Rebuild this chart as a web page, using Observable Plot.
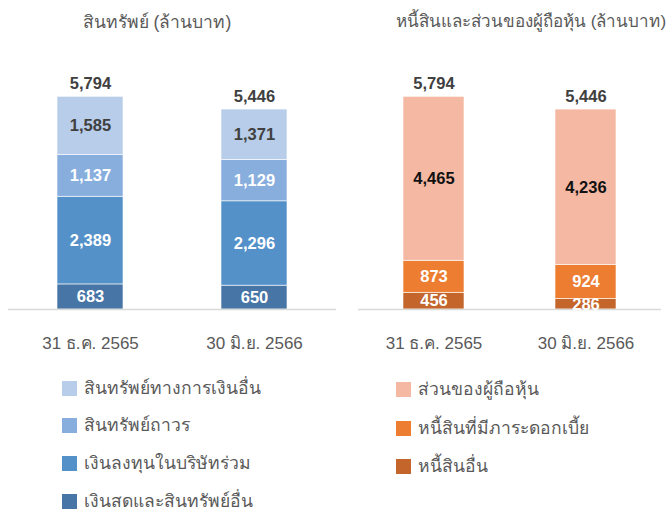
<!DOCTYPE html>
<html>
<head>
<meta charset="utf-8">
<script src="https://cdn.jsdelivr.net/npm/d3@7"></script>
<script src="https://cdn.jsdelivr.net/npm/@observablehq/plot@0.6"></script>
<style>
  body { margin: 0; background: #fff; }
  #root { position: relative; width: 672px; height: 512px; font-family: "Liberation Sans", Arial, "Noto Sans", sans-serif; color: #595959; overflow: hidden; }
  .title { position: absolute; text-align: center; font-size: 17.5px; line-height: 20px; color: #595959; white-space: nowrap; }
  .panel { position: absolute; top: 40px; }
  .lg { position: absolute; display: flex; align-items: center; height: 20px; font-size: 17.5px; color: #595959; white-space: nowrap; }
  .sw { width: 15px; height: 15px; margin-right: 7px; flex: none; }
</style>
</head>
<body>
<div id="root">
  <div class="title" style="left:0;width:314px;top:12px">สินทรัพย์ (ล้านบาท)</div>
  <div class="title" style="left:396px;top:12px;text-align:left;font-size:17px">หนี้สินและส่วนของผู้ถือหุ้น (ล้านบาท)</div>
  <div class="panel" id="left" style="left:0"></div>
  <div class="panel" id="right" style="left:336px"></div>
</div>
<script>
// ---- data ----
const dates = ["31 ธ.ค. 2565", "30 มิ.ย. 2566"];

// assets, stacked bottom to top
const assetCats = ["เงินสดและสินทรัพย์อื่น", "เงินลงทุนในบริษัทร่วม", "สินทรัพย์ถาวร", "สินทรัพย์ทางการเงินอื่น"];
const cashOther = [683, 650];
const jvInvest = [2389, 2296];
const fixedAssets = [1137, 1129];
const otherFinAssets = [1585, 1371];
const totalAssets = [5794, 5446];

// liabilities & equity, stacked bottom to top
const liabCats = ["หนี้สินอื่น", "หนี้สินที่มีภาระดอกเบี้ย", "ส่วนของผู้ถือหุ้น"];
const otherLiab = [456, 286];
const interestDebt = [873, 924];
const equity = [4465, 4236];
const totalLiabEq = [5794, 5446];

const assetColors = ["#4675A6", "#5591C9", "#87AEDD", "#B8CDE9"];
const liabColors = ["#C4652C", "#ED7D31", "#F4B8A3"];

// ---- build tables ----
function rows(cats, series) {
  const out = [];
  dates.forEach((d, i) => cats.forEach((c, j) => out.push({date: d, cat: c, value: series[j][i]})));
  return out;
}
const assetRows = rows(assetCats, [cashOther, jvInvest, fixedAssets, otherFinAssets]);
const liabRows = rows(liabCats, [otherLiab, interestDebt, equity]);
const fmt = d3.format(",");

function panel(data, cats, colors, totals, darkCat, darkColor, geo) {
  return Plot.plot({
    width: 336, height: 320,
    marginLeft: geo.ml, marginRight: geo.mr, marginTop: 12, marginBottom: 51,
    style: {fontFamily: '"Liberation Sans", Arial, sans-serif', background: "transparent"},
    x: {domain: dates, range: geo.range, paddingInner: 0.6, paddingOuter: 0.295, axis: null},
    y: {domain: [0, 7000], axis: null},
    color: {domain: cats, range: colors},
    marks: [
      Plot.barY(data, {x: "date", y: "value", fill: "cat", z: "cat", stroke: "white", strokeWidth: 0.6}),
      Plot.ruleY([0], {stroke: "#d9d9d9", strokeWidth: 1.5}),
      Plot.text(data, Plot.stackY({x: "date", y: "value", z: "cat",
        text: d => d.cat === darkCat ? null : fmt(d.value),
        fill: "white", fontWeight: "bold", fontSize: 16.5})),
      Plot.text(data, Plot.stackY({x: "date", y: "value", z: "cat",
        text: d => d.cat === darkCat ? fmt(d.value) : null,
        fill: darkColor, fontWeight: "bold", fontSize: 16.5})),
      Plot.text(totals, {x: (d, i) => dates[i], y: d => d, text: d => fmt(d),
        dy: -13, fill: "#404040", fontWeight: "bold", fontSize: 16.5}),
      Plot.axisX({tickSize: 0, tickPadding: 27, fontSize: 17, color: "#595959", label: null})
    ]
  });
}

document.getElementById("left").append(
  panel(assetRows, assetCats, assetColors, totalAssets, assetCats[3], "#404040", {ml: 8, mr: 0, range: [8, 336]}));
document.getElementById("right").append(
  panel(liabRows, liabCats, liabColors, totalLiabEq, liabCats[2], "#111111", {ml: 22, mr: 11, range: [22, 325]}));

// ---- legends (top of stack first) ----
const root = document.getElementById("root");
function legend(cats, colors, x, ys) {
  const order = cats.map((c, i) => i).reverse();
  order.forEach((i, k) => {
    const el = document.createElement("div");
    el.className = "lg";
    el.style.left = x + "px";
    el.style.top = (ys[k] - 10) + "px";
    el.innerHTML = `<span class="sw" style="background:${colors[i]}"></span><span>${cats[i]}</span>`;
    root.append(el);
  });
}
legend(assetCats, assetColors, 62, [388, 425, 463, 501]);
legend(liabCats, liabColors, 396, [389, 428, 466]);
</script>
</body>
</html>
